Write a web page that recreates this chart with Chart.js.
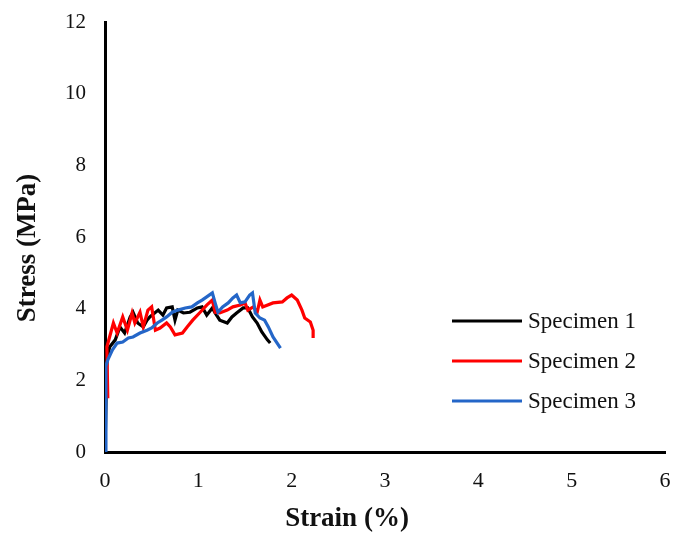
<!DOCTYPE html>
<html>
<head>
<meta charset="utf-8">
<script src="https://cdn.jsdelivr.net/npm/chart.js@4/dist/chart.umd.min.js"></script>
<style>
  html, body { margin: 0; padding: 0; background: #fff; }
  #wrap { width: 688px; height: 534px; }
</style>
</head>
<body>
<div id="wrap"><canvas id="mycanvas" width="688" height="534"></canvas></div>
<script>
// series: strain (%) and stress (MPa)
var labels = ['Specimen 1', 'Specimen 2', 'Specimen 3'];

var strain1 = [0, 0.02, 0.05, 0.11, 0.16, 0.21, 0.27, 0.3, 0.35, 0.41, 0.45, 0.48, 0.57, 0.62, 0.66, 0.72, 0.75, 0.78, 0.84, 0.91, 0.99, 1.04, 1.09, 1.15, 1.18, 1.23, 1.31, 1.36, 1.41, 1.48, 1.53, 1.58, 1.63, 1.68, 1.74, 1.77];
var stress1 = [0, 2.57, 2.93, 3.13, 3.49, 3.32, 3.77, 3.9, 3.6, 3.49, 3.68, 3.77, 3.96, 3.82, 4.02, 4.05, 3.68, 3.96, 3.88, 3.9, 4.02, 4.05, 3.82, 4.02, 3.88, 3.68, 3.6, 3.77, 3.88, 4.02, 4.02, 3.77, 3.6, 3.35, 3.13, 3.04];

var strain2 = [0.03, 0.02, 0.09, 0.13, 0.19, 0.24, 0.29, 0.32, 0.375, 0.41, 0.46, 0.5, 0.54, 0.59, 0.66, 0.7, 0.75, 0.83, 0.88, 0.94, 1.02, 1.09, 1.15, 1.18, 1.23, 1.31, 1.37, 1.45, 1.5, 1.53, 1.59, 1.63, 1.66, 1.69, 1.8, 1.9, 1.95, 2.0, 2.06, 2.11, 2.14, 2.2, 2.23, 2.23];
var stress2 = [1.5, 2.93, 3.6, 3.32, 3.77, 3.4, 3.88, 3.6, 3.9, 3.49, 3.96, 4.05, 3.4, 3.46, 3.6, 3.49, 3.27, 3.32, 3.49, 3.68, 3.9, 4.1, 4.24, 3.9, 3.88, 3.96, 4.05, 4.1, 4.16, 3.96, 4.05, 3.9, 4.24, 4.05, 4.16, 4.19, 4.3, 4.38, 4.24, 3.96, 3.74, 3.63, 3.4, 3.18];

var strain3 = [0, 0.01, 0.03, 0.08, 0.13, 0.19, 0.25, 0.3, 0.375, 0.45, 0.5, 0.56, 0.61, 0.66, 0.72, 0.78, 0.86, 0.93, 0.99, 1.04, 1.09, 1.15, 1.18, 1.21, 1.26, 1.32, 1.37, 1.41, 1.45, 1.5, 1.55, 1.58, 1.61, 1.66, 1.71, 1.75, 1.8, 1.88];
var stress3 = [0, 2.4, 2.57, 2.85, 3.04, 3.07, 3.18, 3.21, 3.32, 3.4, 3.46, 3.6, 3.68, 3.77, 3.9, 3.96, 4.02, 4.05, 4.16, 4.24, 4.33, 4.44, 4.16, 3.9, 4.05, 4.16, 4.3, 4.38, 4.16, 4.19, 4.38, 4.44, 3.88, 3.74, 3.68, 3.49, 3.21, 2.9];

var colors = ['#000000', '#ff0000', '#2466c8'];

var xTitle = 'Strain (%)';
var yTitle = 'Stress (MPa)';

function toPoints(xs, ys) {
	var pts = [];
	for (var i in xs) {
		pts.push({x: xs[i], y: ys[i]});
	}
	return pts;
}

var serif = '"Liberation Serif", "Times New Roman", serif';

// legend + axis titles drawn on the canvas, placed like the original
var extras = {
	id: 'extras',
	afterDraw: function(chart) {
		var ctx = chart.ctx;
		var area = chart.chartArea;
		ctx.save();
		ctx.fillStyle = '#111';
		ctx.font = 'bold 27px ' + serif;
		ctx.textAlign = 'center';
		ctx.textBaseline = 'middle';
		ctx.fillText(xTitle, area.left + 242, area.bottom + 67);
		ctx.translate(28, area.top + 226);
		ctx.rotate(-Math.PI / 2);
		ctx.fillText(yTitle, 0, 0);
		ctx.restore();

		ctx.save();
		ctx.font = '23px ' + serif;
		ctx.textAlign = 'left';
		ctx.textBaseline = 'middle';
		var sets = chart.data.datasets;
		for (var i = 0; i < sets.length; i++) {
			var y = area.top + 299 + i * 40;
			ctx.strokeStyle = sets[i].borderColor;
			ctx.lineWidth = 3;
			ctx.beginPath();
			ctx.moveTo(area.left + 347, y);
			ctx.lineTo(area.left + 417, y);
			ctx.stroke();
			ctx.fillStyle = '#111';
			ctx.fillText(sets[i].label, area.left + 423, y + 1);
		}
		ctx.restore();
	}
};

var chartdata = {
	datasets: [
		{ label: labels[0], data: toPoints(strain1, stress1), borderColor: colors[0], order: 2 },
		{ label: labels[1], data: toPoints(strain2, stress2), borderColor: colors[1], order: 1 },
		{ label: labels[2], data: toPoints(strain3, stress3), borderColor: colors[2], order: 0 }
	]
};
chartdata.datasets.forEach(function(d) {
	d.borderWidth = 3.2;
	d.pointRadius = 0;
	d.tension = 0;
	d.fill = false;
});

var ctx = document.getElementById('mycanvas');

var lineGraph = new Chart(ctx, {
	type: 'line',
	data: chartdata,
	plugins: [extras],
	options: {
		responsive: false,
		animation: false,
		layout: { padding: { top: 22, right: 23, left: 0, bottom: 0 } },
		plugins: {
			legend: { display: false },
			tooltip: { enabled: false }
		},
		scales: {
			x: {
				type: 'linear',
				min: 0,
				max: 6,
				grid: { display: false, drawTicks: false },
				border: { display: true, color: '#000', width: 3 },
				ticks: { stepSize: 1, padding: 16, color: '#111', font: { family: serif, size: 22 } },
				afterFit: function(scale) {
					scale.height = 82;
					scale.paddingLeft = 0;
					scale.paddingRight = 0;
				}
			},
			y: {
				min: 0,
				max: 12,
				grid: { display: false, drawTicks: false },
				border: { display: true, color: '#000', width: 3 },
				ticks: { stepSize: 2, padding: 19, color: '#111', font: { family: serif, size: 21 } },
				afterFit: function(scale) {
					scale.width = 105;
					scale.paddingTop = 0;
					scale.paddingBottom = 0;
				}
			}
		}
	}
});
</script>
</body>
</html>
